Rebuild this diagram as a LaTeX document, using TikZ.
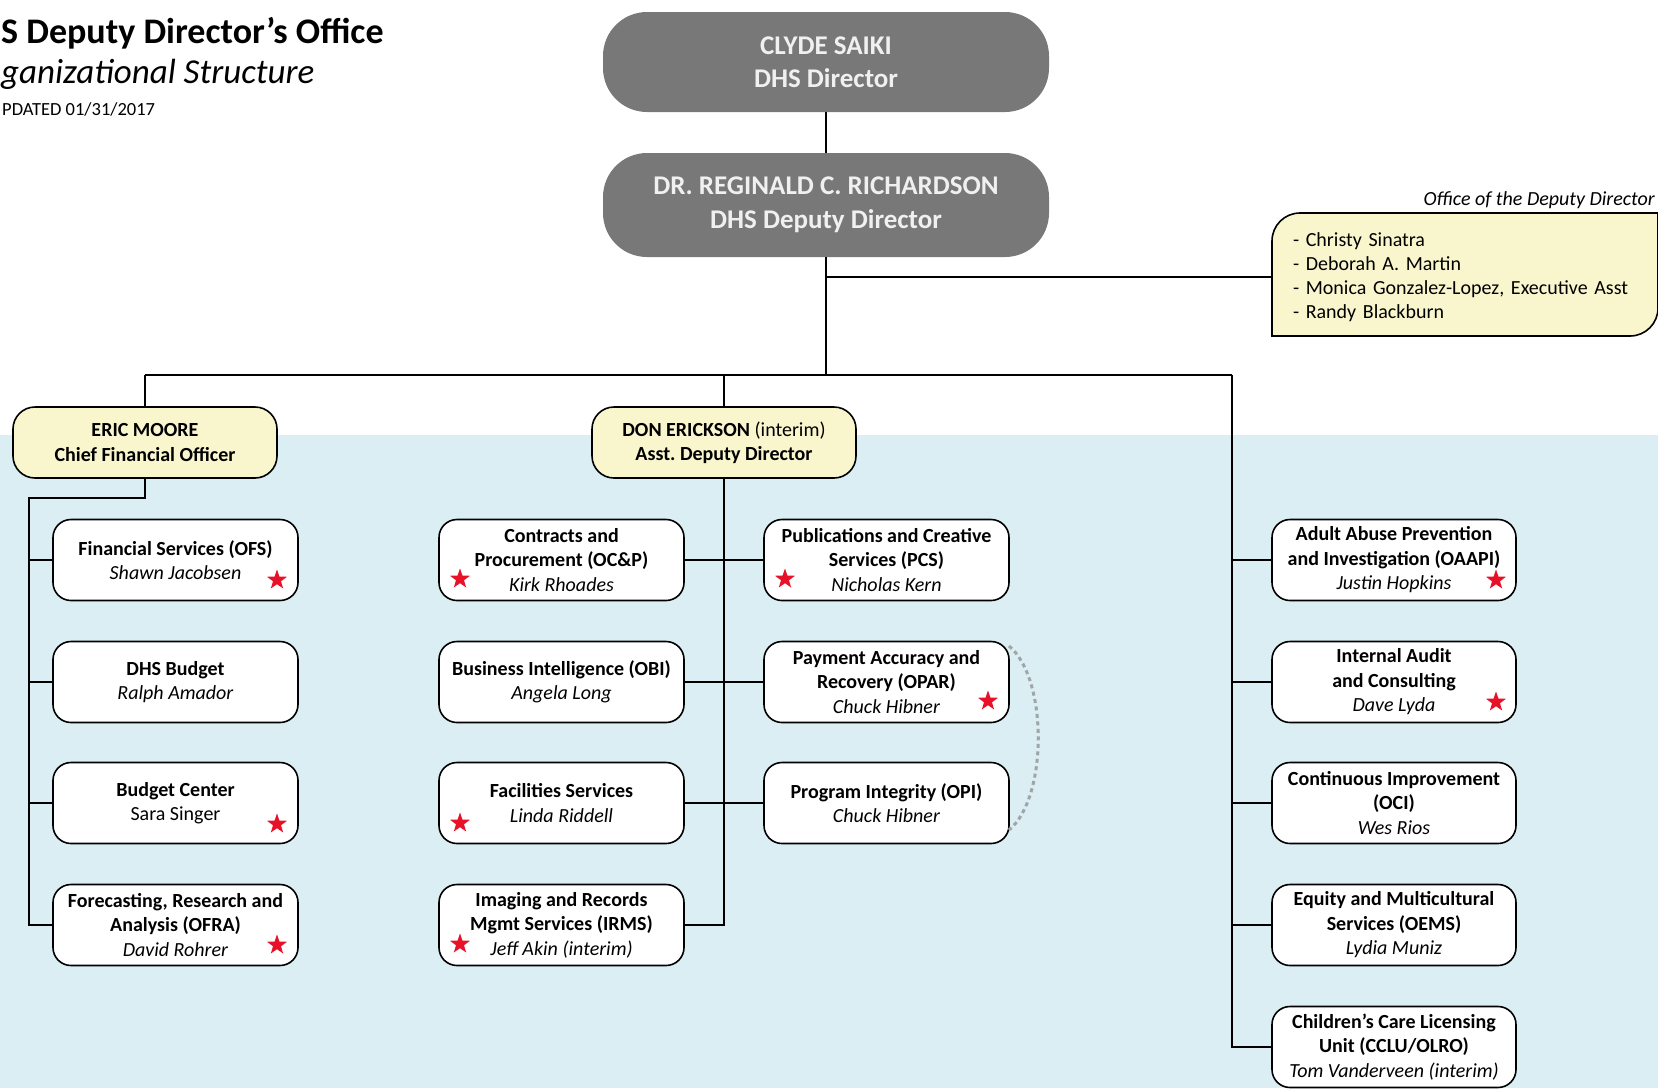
\documentclass[tikz,border=0pt]{standalone}
\usepackage{fontspec}
\setmainfont{Carlito}
\usetikzlibrary{shapes.geometric}
\definecolor{bgblue}{RGB}{218,238,243}
\definecolor{boxyellow}{RGB}{249,246,206}
\definecolor{topgray}{RGB}{120,120,120}
\definecolor{starred}{RGB}{232,18,40}
\definecolor{arcgray}{RGB}{160,166,168}
\frenchspacing
\begin{document}
\begin{tikzpicture}[x=1pt,y=-1pt,
  every node/.style={inner sep=0pt},
  conn/.style={draw=black, line width=1.8pt},
  unit/.style={draw=black, line width=1.6pt, fill=white, rounded corners=18pt,
    minimum width=245pt, minimum height=81pt, align=center,
    font=\fontsize{20}{24.5}\selectfont},
  lead/.style={draw=black, line width=1.6pt, fill=boxyellow, rounded corners=22pt,
    minimum width=264pt, minimum height=71pt, align=center,
    font=\fontsize{20}{24.5}\selectfont},
  chief/.style={fill=topgray, rounded corners=44pt, minimum width=446pt,
    minimum height=100pt, align=center, text=white!94!black,
    font=\fontsize{27}{33.5}\selectfont},
  starmark/.style={star, star points=5, star point ratio=2.5, fill=starred,
    minimum size=21pt, inner sep=0pt},
  dotarc/.style={draw=arcgray, line width=3pt, dash pattern=on 4pt off 3.5pt},
]
\useasboundingbox (0,0) rectangle (1658,1088);
\clip (0,0) rectangle (1658,1088);
\fill[white] (0,0) rectangle (1658,1088);
\fill[bgblue] (0,435) rectangle (1658,1088);

% titles
\node[anchor=base west, font=\fontsize{36}{42}\selectfont\bfseries] (title) at (1,43) {S Deputy Director’s Office};
\node[anchor=base west, font=\fontsize{35}{40}\selectfont\itshape] (subtitle) at (1,83) {ganizational Structure};
\node[anchor=base west, font=\fontsize{18.5}{22}\selectfont] (updated) at (2,115) {PDATED 01/31/2017};

% top
\node[chief] (dir) at (826,62) {\textbf{CLYDE SAIKI}\\\textbf{DHS Director}};
\node[chief, minimum height=104pt] (dep) at (826,205) {\textbf{DR. REGINALD C. RICHARDSON}\\\textbf{DHS Deputy Director}};

% office of the deputy director
\draw[line width=1.6pt, fill=boxyellow] (1272,336) -- (1272,241)
  .. controls (1272,225.5) and (1284.5,213) .. (1300,213) -- (1658,213) -- (1658,308)
  .. controls (1658,323.5) and (1645.5,336) .. (1630,336) -- cycle;
\node[minimum width=386pt, minimum height=123pt, text width=344pt, align=left,
  font=\fontsize{20}{24}\selectfont] (office) at (1465,277)
  {- Christy Sinatra\\- Deborah A. Martin\\- Monica Gonzalez-Lopez, Executive Asst\\- Randy Blackburn};
\node[anchor=base east, font=\fontsize{20}{24}\selectfont\itshape] (officelabel) at (1655,205) {Office of the Deputy Director};

% leads
\node[lead] (eric) at (145,442.5) {\textbf{ERIC MOORE}\\\textbf{Chief Financial Officer}};
\node[lead] (don) at (724,442.5) {\textbf{DON ERICKSON} (interim)\\\textbf{Asst. Deputy Director}};

% left column
\node[unit] (fs) at (175.5,560) {\textbf{Financial Services (OFS)}\\\textit{Shawn Jacobsen}};
\node[unit] (bud) at (175.5,682) {\textbf{DHS Budget}\\\textit{Ralph Amador}};
\node[unit] (bc) at (175.5,803) {\textbf{Budget Center}\\Sara Singer};
\node[unit] (ofra) at (175.5,925) {\textbf{Forecasting, Research and}\\\textbf{Analysis (OFRA)}\\\textit{David Rohrer}};

% middle left
\node[unit] (ocp) at (561.5,560) {\textbf{Contracts and}\\\textbf{Procurement (OC\&P)}\\\textit{Kirk Rhoades}};
\node[unit] (obi) at (561.5,682) {\textbf{Business Intelligence (OBI)}\\\textit{Angela Long}};
\node[unit] (fac) at (561.5,803) {\textbf{Facilities Services}\\\textit{Linda Riddell}};
\node[unit] (irms) at (561.5,925) {\textbf{Imaging and Records}\\\textbf{Mgmt Services (IRMS)}\\\textit{Jeff Akin (interim)}};

% middle right
\node[unit] (pcs) at (886.5,560) {\textbf{Publications and Creative}\\\textbf{Services (PCS)}\\\textit{Nicholas Kern}};
\node[unit] (opar) at (886.5,682) {\textbf{Payment Accuracy and}\\\textbf{Recovery (OPAR)}\\\textit{Chuck Hibner}};
\node[unit] (opi) at (886.5,803) {\textbf{Program Integrity (OPI)}\\\textit{Chuck Hibner}};

% right column
\node[unit, minimum width=244pt] (oaapi) at (1394,560) {\textbf{Adult Abuse Prevention}\\\textbf{and Investigation (OAAPI)}\\\textit{Justin Hopkins}};
\node[unit, minimum width=244pt] (ia) at (1394,682) {\textbf{Internal Audit}\\\textbf{and Consulting}\\\textit{Dave Lyda}};
\node[unit, minimum width=244pt] (oci) at (1394,803) {\textbf{Continuous Improvement}\\\textbf{(OCI)}\\\textit{Wes Rios}};
\node[unit, minimum width=244pt] (oems) at (1394,925) {\textbf{Equity and Multicultural}\\\textbf{Services (OEMS)}\\\textit{Lydia Muniz}};
\node[unit, minimum width=244pt] (ccl) at (1394,1047) {\textbf{Children’s Care Licensing}\\\textbf{Unit (CCLU/OLRO)}\\\textit{Tom Vanderveen (interim)}};

% stars
\node[starmark] (s1) at (277,580) {};
\node[starmark] (s2) at (277,824) {};
\node[starmark] (s3) at (277,945) {};
\node[starmark] (s4) at (460,579) {};
\node[starmark] (s5) at (785,579) {};
\node[starmark] (s6) at (988,701) {};
\node[starmark] (s7) at (460,823) {};
\node[starmark] (s8) at (460,944) {};
\node[starmark] (s9) at (1496,580) {};
\node[starmark] (s10) at (1496,702) {};

% coordinates
\coordinate (busL) at (145,375);
\coordinate (busM) at (826,375);
\coordinate (busR) at (1232,375);
\coordinate (lv) at (29,498);
\coordinate (arcA) at (1009,646);
\coordinate (arcB) at (1009,830);

% connectors
\draw[conn] (dir.south) -- (dep.north);
\draw[conn] (dep.south) -- (busM);
\draw[conn] (dep.south |- office.west) -- (office.west);
\draw[conn] (busL) -- (busR);
\draw[conn] (busL) -- (eric.north);
\draw[conn] (don.north |- busL) -- (don.north);
\draw[conn] (busR) |- (ccl.west);
\draw[conn] (busR |- oaapi.west) -- (oaapi.west);
\draw[conn] (busR |- ia.west) -- (ia.west);
\draw[conn] (busR |- oci.west) -- (oci.west);
\draw[conn] (busR |- oems.west) -- (oems.west);

\draw[conn] (eric.south) |- (lv) |- (ofra.west);
\draw[conn] (lv |- fs.west) -- (fs.west);
\draw[conn] (lv |- bud.west) -- (bud.west);
\draw[conn] (lv |- bc.west) -- (bc.west);

\draw[conn] (don.south) |- (irms.east);
\draw[conn] (ocp.east) -- (pcs.west);
\draw[conn] (obi.east) -- (opar.west);
\draw[conn] (fac.east) -- (opi.west);

\draw[dotarc] (arcA) .. controls (1048,678) and (1048,798) .. (arcB);
\end{tikzpicture}
\end{document}
